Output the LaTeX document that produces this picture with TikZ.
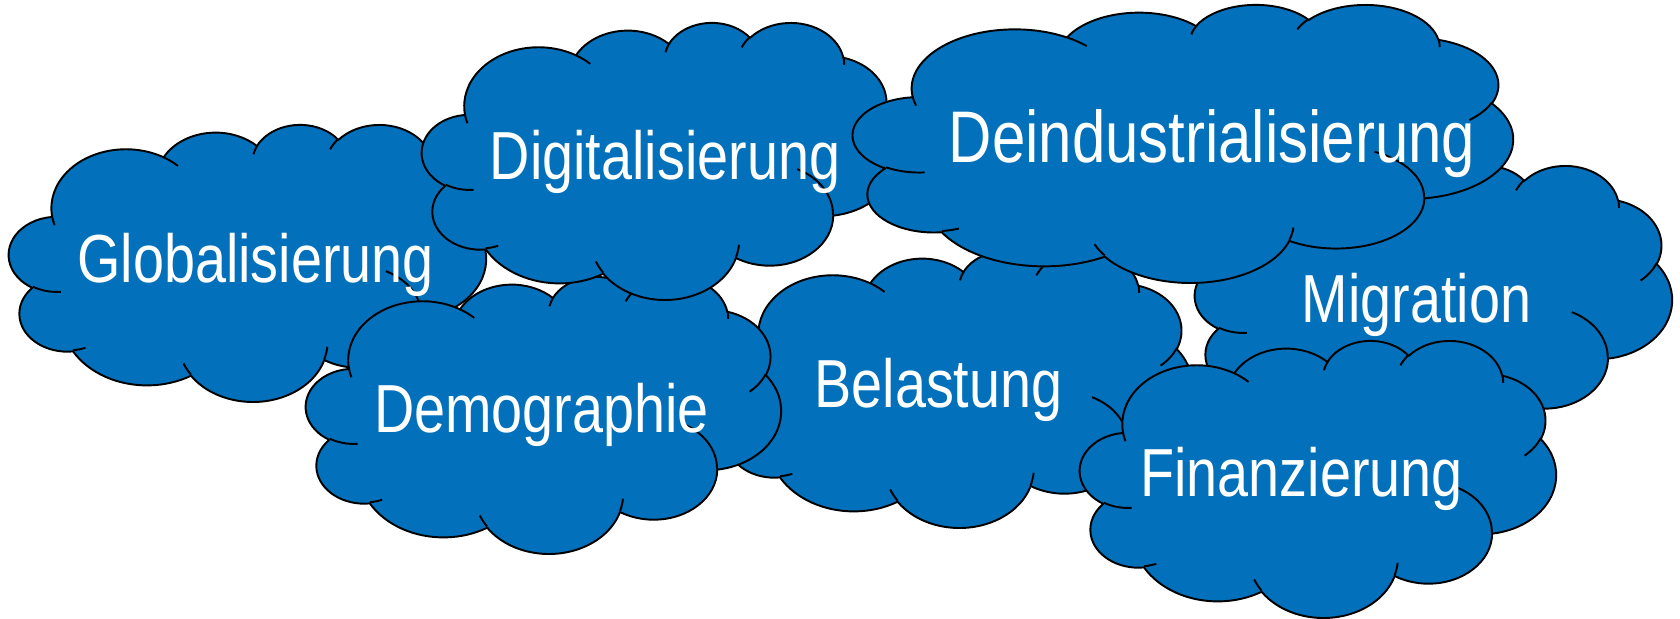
\documentclass[tikz,border=0pt]{standalone}
\usepackage{fontspec}
\setmainfont{Liberation Sans}[FakeStretch=0.82]
\definecolor{cloudblue}{RGB}{2,112,186}
\tikzset{
  cloudbody/.style={fill=cloudblue,draw=black,line width=0.55pt,line join=round},
  cloudline/.style={draw=black,line width=0.55pt},
  cloudtext/.style={text=white,anchor=base,inner sep=0pt,font=\fontsize{19.35pt}{22pt}\selectfont},
  bigtext/.style={cloudtext,font=\fontsize{20.8pt}{24pt}\selectfont},
}
% point of the 43200x43200 cloud path, mapped to the box x0,y0,w,h (px, y down)
\newcommand\clpt[2]{(\fpeval{round((\clxo+(#1)*\clw/43200)/100,5)}cm,\fpeval{round(-(\clyo+(#2)*\clh/43200)/100,5)}cm)}
\newcommand\clT[3]{atand((#1)*sind(#3),(#2)*cosd(#3))}
\newcommand\clD[4]{(\clT{#1}{#2}{((#3)+(#4))/60000}-\clT{#1}{#2}{(#3)/60000})}
\newcommand\clarc[4]{ arc[start angle=\fpeval{round(-(\clT{#1}{#2}{(#3)/60000}),4)},
  end angle=\fpeval{round(-(\clT{#1}{#2}{(#3)/60000}) - ( (#4)>0 ? (\clD{#1}{#2}{#3}{#4} - 360*floor(\clD{#1}{#2}{#3}{#4}/360)) : (\clD{#1}{#2}{#3}{#4} - 360*ceil(\clD{#1}{#2}{#3}{#4}/360)) ),4)},
  x radius=\fpeval{round((#1)*\clw/4320000,5)}cm, y radius=\fpeval{round((#2)*\clh/4320000,5)}cm] }
\newcommand\drawcloud[4]{%
  \def\clxo{#1}\def\clyo{#2}\def\clw{#3}\def\clh{#4}%
  \edef\cldo{\noexpand\path[cloudbody] \clpt{3900}{14370}
    \clarc{6753}{9190}{-11429249}{7426832}
    \clarc{5333}{7267}{-8646143}{5396714}
    \clarc{4365}{5945}{-8748475}{5983381}
    \clarc{4857}{6595}{-7859164}{7034504}
    \clarc{5333}{7273}{-4722533}{6541615}
    \clarc{6775}{9220}{-2776035}{7816140}
    \clarc{5785}{7867}{37501}{6842000}
    \clarc{6752}{9215}{1347096}{6910353}
    \clarc{7720}{10543}{3974558}{4542661}
    \clarc{4360}{5918}{-16496525}{8804134}
    \clarc{4345}{5945}{-14809710}{9151131} -- cycle;
    \noexpand\path[cloudline]
    \clpt{4693}{26177} \clarc{4345}{5945}{5204520}{1585770}
    \clpt{6928}{34899} \clarc{4360}{5918}{4416628}{686848}
    \clpt{16478}{39090} \clarc{6752}{9215}{8257449}{844866}
    \clpt{28827}{34751} \clarc{6752}{9215}{387196}{959901}
    \clpt{34129}{22954} \clarc{5785}{7867}{-4217541}{4255042}
    \clpt{41798}{15354} \clarc{5333}{7273}{1819082}{1665090}
    \clpt{38324}{5426} \clarc{4857}{6595}{-824660}{891534}
    \clpt{29078}{3952} \clarc{4857}{6595}{-8950887}{1091722}
    \clpt{22141}{4720} \clarc{4365}{5945}{-9809656}{1061181}
    \clpt{14000}{5192} \clarc{6753}{9190}{-4002417}{739161}
    \clpt{4127}{15789} \clarc{6753}{9190}{9459261}{711490};}%
  \cldo}
\begin{document}
\begin{tikzpicture}
\useasboundingbox (0,0) rectangle (16.8,-6.19);
\drawcloud{9}{124}{477}{277}
\node[cloudtext] (glob) at (2.555,-2.83) {Globalisierung};
\drawcloud{716}{250}{476}{277}
\node[cloudtext] (bel) at (9.385,-4.08) {Belastung};
\drawcloud{306}{276}{475}{277}
\node[cloudtext] (demo) at (5.415,-4.33) {Demographie};
\drawcloud{422}{22}{475}{277}
\node[cloudtext] (dig) at (6.65,-1.80) {Digitalisierung};
\drawcloud{1195}{165}{477}{277}
\node[cloudtext] (mig) at (14.165,-3.23) {Migration};
\drawcloud{853}{4}{660}{278}
\node[bigtext] (deind) at (12.12,-1.63) {Deindustrialisierung};
\drawcloud{1080}{340}{476}{277}
\node[cloudtext] (fin) at (13.015,-4.97) {Finanzierung};
\end{tikzpicture}
\end{document}
